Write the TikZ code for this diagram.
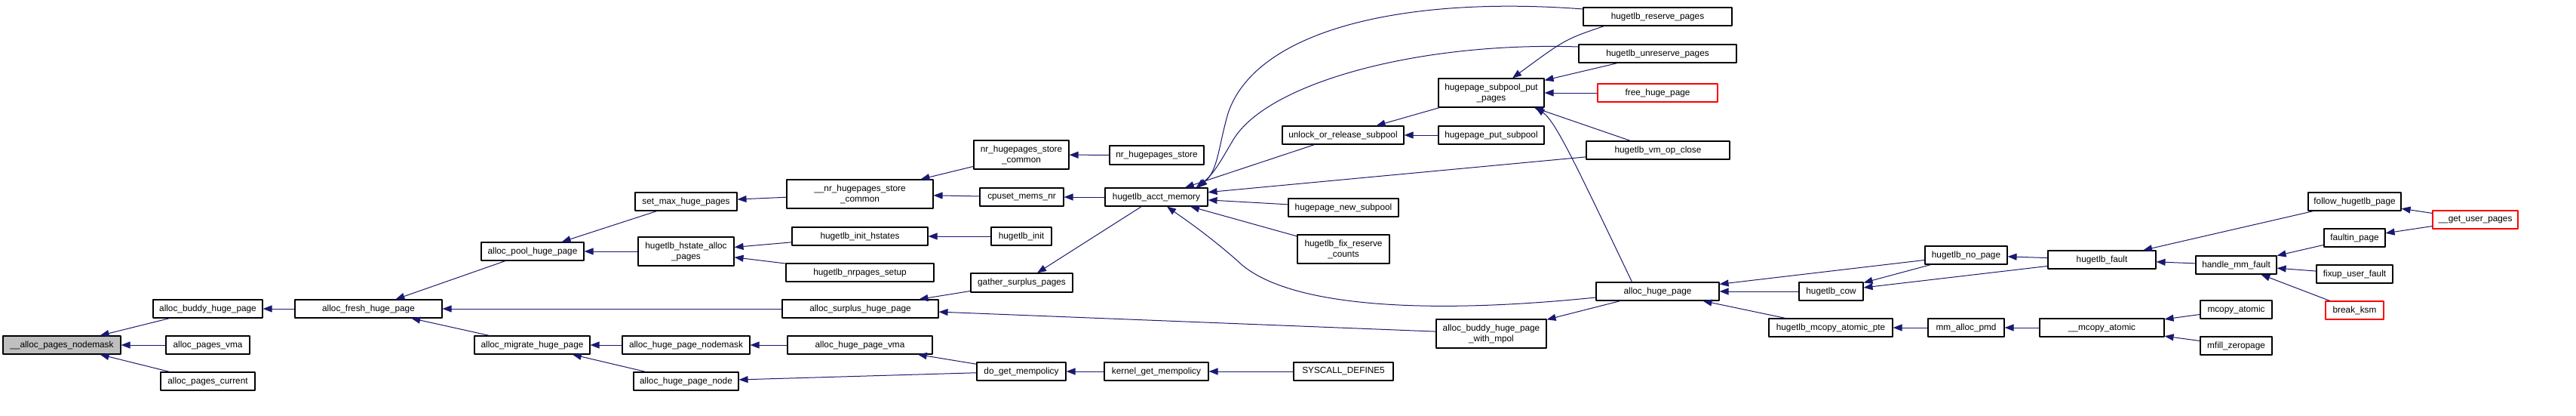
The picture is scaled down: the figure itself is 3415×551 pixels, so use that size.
\documentclass[tikz,border=0pt]{standalone}
\usepackage{fontspec}
\setmainfont{Liberation Sans}
\usepackage{tikz}
\usetikzlibrary{arrows.meta,calc}
\definecolor{callblue}{HTML}{191970}
\definecolor{rootgray}{HTML}{BFBFBF}
\definecolor{hidered}{HTML}{FF0000}

\begin{document}
\begin{tikzpicture}[x=1pt, y=-1pt, line join=round,
  fn/.style={draw=black, line width=1.1pt, fill=white, inner sep=0pt,
    minimum height=24pt, align=center, font=\fontsize{11.8}{14}\selectfont},
  tall/.style={minimum height=38pt},
  cut/.style={draw=hidered},
  call/.style={draw=callblue, line width=1pt,
    -{Triangle[length=12pt,width=9pt,fill=callblue]}}]
  \useasboundingbox (0,0) rectangle (3415,551);
  % root and its direct callers
  \node[fn, fill=rootgray, minimum width=156pt] (nodemask) at (82,457) {\_\_alloc\_pages\_nodemask};
  \node[fn, minimum width=145pt] (buddy)   at (275.5,409) {alloc\_buddy\_huge\_page};
  \node[fn, minimum width=111pt] (pvma)    at (275.5,457) {alloc\_pages\_vma};
  \node[fn, minimum width=125pt] (pcur)    at (275.5,505) {alloc\_pages\_current};
  \node[fn, minimum width=195pt] (fresh)   at (488.5,409) {alloc\_fresh\_huge\_page};
  % pool / migrate column
  \node[fn, minimum width=136pt] (pool)    at (706,333)   {alloc\_pool\_huge\_page};
  \node[fn, minimum width=153pt] (migrate) at (705.5,457) {alloc\_migrate\_huge\_page};
  \node[fn, minimum width=135pt] (setmax)  at (909.5,267) {set\_max\_huge\_pages};
  \node[fn, tall, minimum width=127pt] (hstate) at (909.5,333) {hugetlb\_hstate\_alloc\\\_pages};
  \node[fn, minimum width=169pt] (hpnmask) at (909.5,457) {alloc\_huge\_page\_nodemask};
  \node[fn, minimum width=139pt] (hpnode)  at (909.5,505) {alloc\_huge\_page\_node};
  % third column
  \node[fn, tall, minimum width=194pt] (nrcommon) at (1140,257) {\_\_nr\_hugepages\_store\\\_common};
  \node[fn, minimum width=180pt] (inithst) at (1140,313)   {hugetlb\_init\_hstates};
  \node[fn, minimum width=196pt] (nrsetup) at (1140,361)   {hugetlb\_nrpages\_setup};
  \node[fn, minimum width=207pt] (surplus) at (1140.5,409) {alloc\_surplus\_huge\_page};
  \node[fn, minimum width=192pt] (hpvma)   at (1140,457)   {alloc\_huge\_page\_vma};
  % fourth column
  \node[fn, tall, minimum width=126pt] (nrstcom) at (1354,205) {nr\_hugepages\_store\\\_common};
  \node[fn, minimum width=111pt] (cpuset)  at (1354.5,261) {cpuset\_mems\_nr};
  \node[fn, minimum width=80pt]  (hinit)   at (1354,313)   {hugetlb\_init};
  \node[fn, minimum width=135pt, minimum height=25pt] (gather) at (1354.5,374.5) {gather\_surplus\_pages};
  \node[fn, minimum width=118pt] (dogetmp) at (1354,492)   {do\_get\_mempolicy};
  % fifth column
  \node[fn, minimum width=125pt, minimum height=25pt] (nrstore) at (1533.5,205.5) {nr\_hugepages\_store};
  \node[fn, minimum width=136pt] (acct)    at (1533,261)   {hugetlb\_acct\_memory};
  \node[fn, minimum width=138pt] (kgetmp)  at (1533,492)   {kernel\_get\_mempolicy};
  % sixth column
  \node[fn, minimum width=161pt] (unlock)  at (1780.5,179) {unlock\_or\_release\_subpool};
  \node[fn, minimum width=146pt] (newsp)   at (1781,275)   {hugepage\_new\_subpool};
  \node[fn, tall, minimum width=122pt] (fixres) at (1781,330) {hugetlb\_fix\_reserve\\\_counts};
  \node[fn, minimum width=132pt] (sysdef)  at (1781,492)   {SYSCALL\_DEFINE5};
  \node[fn, tall, minimum width=140pt] (putp) at (1977,123) {hugepage\_subpool\_put\\\_pages};
  \node[fn, minimum width=140pt] (putsp)   at (1977,179)   {hugepage\_put\_subpool};
  \node[fn, tall, minimum width=146pt] (bmpol) at (1977,442) {alloc\_buddy\_huge\_page\\\_with\_mpol};
  % seventh column
  \node[fn, minimum width=197pt] (resv)    at (2197.5,22)  {hugetlb\_reserve\_pages};
  \node[fn, minimum width=209pt] (unresv)  at (2197.5,71)  {hugetlb\_unreserve\_pages};
  \node[fn, cut, minimum width=159pt] (freehp) at (2197.5,123) {free\_huge\_page};
  \node[fn, minimum width=190pt] (vmclose) at (2198,199)   {hugetlb\_vm\_op\_close};
  \node[fn, minimum width=163pt] (ahp)     at (2197.5,386) {alloc\_huge\_page};
  % fault path
  \node[fn, minimum width=85pt]  (cow)     at (2427.5,386) {hugetlb\_cow};
  \node[fn, minimum width=164pt] (mcpte)   at (2427,434)   {hugetlb\_mcopy\_atomic\_pte};
  \node[fn, minimum width=109pt] (nopage)  at (2606.5,338) {hugetlb\_no\_page};
  \node[fn, minimum width=101pt] (pmd)     at (2606.5,434) {mm\_alloc\_pmd};
  \node[fn, minimum width=143pt] (hfault)  at (2786.5,344) {hugetlb\_fault};
  \node[fn, minimum width=165pt] (mcatom)  at (2786.5,434) {\_\_mcopy\_atomic};
  \node[fn, minimum width=107pt] (mmfault) at (2964.5,351) {handle\_mm\_fault};
  \node[fn, minimum width=95pt]  (mcopy)   at (2964.5,410) {mcopy\_atomic};
  \node[fn, minimum width=95pt]  (mfill)   at (2964.5,458) {mfill\_zeropage};
  \node[fn, minimum width=123pt] (follow)  at (3121.5,267) {follow\_hugetlb\_page};
  \node[fn, minimum width=81pt]  (faultin) at (3121.5,315) {faultin\_page};
  \node[fn, minimum width=101pt] (fixup)   at (3121.5,363) {fixup\_user\_fault};
  \node[fn, cut, minimum width=77pt]  (ksm) at (3121.5,411) {break\_ksm};
  \node[fn, cut, minimum width=113pt] (gup) at (3281.5,291) {\_\_get\_user\_pages};

  % caller edges, tip at the callee
  \draw[call] (buddy) -- (nodemask);
  \draw[call] (pvma) -- (nodemask);
  \draw[call] (pcur) -- (nodemask);
  \draw[call] (fresh) -- (buddy);
  \draw[call] (pool) -- (fresh);
  \draw[call] (surplus) -- (fresh);
  \draw[call] (migrate) -- (fresh);
  \draw[call] (setmax) -- (pool);
  \draw[call] (hstate) -- (pool);
  \draw[call] (nrcommon) -- (setmax);
  \draw[call] (inithst) -- (hstate);
  \draw[call] (nrsetup) -- (hstate);
  \draw[call] (hpnmask) -- (migrate);
  \draw[call] (hpnode) -- (migrate);
  \draw[call] (nrstcom) -- (nrcommon);
  \draw[call] (cpuset) -- (nrcommon);
  \draw[call] (hinit) -- (inithst);
  \draw[call] (gather) -- (surplus);
  \draw[call] (bmpol) -- (surplus);
  \draw[call] (hpvma) -- (hpnmask);
  \draw[call] (dogetmp) -- (hpvma);
  \draw[call] (dogetmp) -- (hpnode);
  \draw[call] (nrstore) -- (nrstcom);
  \draw[call] (acct) -- (cpuset);
  \draw[call] (acct) -- (gather);
  \draw[call] (kgetmp) -- (dogetmp);
  \draw[call] (sysdef) -- (kgetmp);
  % into hugetlb_acct_memory
  \draw[call] ($(resv.west)+(0,-10)$) .. controls (1860,-6) and (1665,40) .. (1628,150)
    .. controls (1615,195) and (1615,225) .. ($(acct.north east)+(-13,0)$);
  \draw[call] ($(unresv.west)+(0,-9)$) .. controls (1880,55) and (1680,110) .. (1635,185)
    .. controls (1620,210) and (1610,230) .. ($(acct.north east)+(-16,0)$);
  \draw[call] (unlock) -- (acct);
  \draw[call] (vmclose) -- (acct);
  \draw[call] (newsp) -- (acct);
  \draw[call] (fixres) -- (acct);
  \draw[call] ($(ahp.west)+(0,8)$) .. controls (1880,418) and (1700,405) .. (1640,345)
    .. controls (1600,310) and (1570,290) .. ($(acct.south)+(14,0)$);
  % subpool
  \draw[call] (putp) -- (unlock);
  \draw[call] (putsp) -- (unlock);
  \draw[call] ($(resv.south)+(-71,0)$) .. controls (2075,52) .. ($(putp.north)+(28,0)$);
  \draw[call] (unresv) -- (putp);
  \draw[call] (freehp) -- (putp);
  \draw[call] (vmclose) -- (putp);
  \draw[call] ($(ahp.north)+(-34,0)$) .. controls (2090,220) and (2062,160) .. ($(putp.south east)+(-12,0)$);
  \draw[call] (ahp) -- (bmpol);
  % fault side
  \draw[call] (nopage) -- (ahp);
  \draw[call] (cow) -- (ahp);
  \draw[call] (mcpte) -- (ahp);
  \draw[call] (nopage) -- (cow);
  \draw[call] (hfault) -- (cow);
  \draw[call] (hfault) -- (nopage);
  \draw[call] (pmd) -- (mcpte);
  \draw[call] (mcatom) -- (pmd);
  \draw[call] (follow) -- (hfault);
  \draw[call] (mmfault) -- (hfault);
  \draw[call] (mcopy) -- (mcatom);
  \draw[call] (mfill) -- (mcatom);
  \draw[call] (gup) -- (follow);
  \draw[call] (gup) -- (faultin);
  \draw[call] (faultin) -- (mmfault);
  \draw[call] (fixup) -- (mmfault);
  \draw[call] (ksm) -- (mmfault);
\end{tikzpicture}
\end{document}
